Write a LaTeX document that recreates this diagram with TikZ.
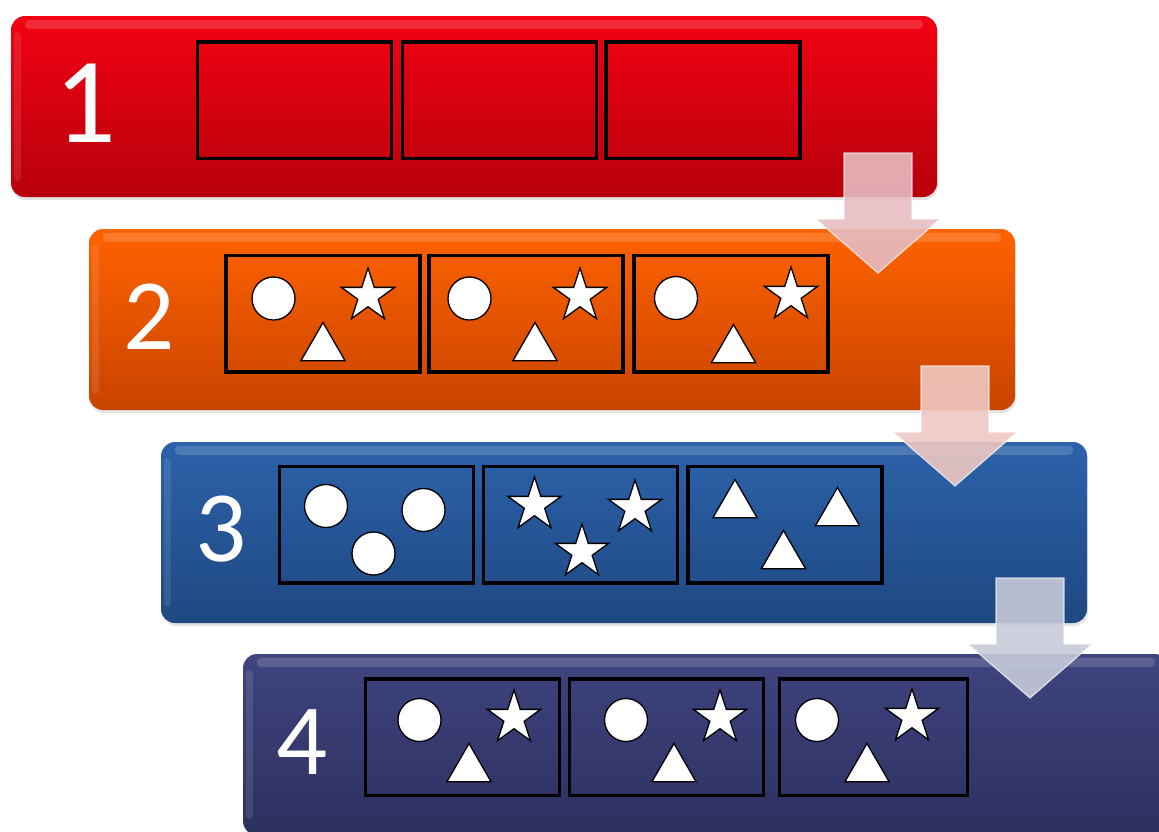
\documentclass[tikz,border=0pt]{standalone}
\usepackage{fontspec}
\setsansfont{Carlito}
\usetikzlibrary{shapes.geometric,shadows,calc}

\definecolor{redtop}{RGB}{242,2,18}
\definecolor{redbot}{RGB}{184,0,12}
\definecolor{orgtop}{RGB}{255,98,0}
\definecolor{orgbot}{RGB}{200,68,0}
\definecolor{blutop}{RGB}{44,98,170}
\definecolor{blubot}{RGB}{30,72,130}
\definecolor{navtop}{RGB}{64,68,128}
\definecolor{navbot}{RGB}{44,48,94}
\definecolor{pinkarr}{RGB}{230,188,193}
\definecolor{salarr}{RGB}{238,200,194}
\definecolor{grayarr}{RGB}{198,202,216}

\begin{document}
\begin{tikzpicture}[x=1pt,y=-1pt,
  bar/.style={rounded corners=14pt,minimum width=926pt,minimum height=181pt,inner sep=0pt,
              drop shadow={opacity=0.22,shadow xshift=1pt,shadow yshift=-3pt}},
  gloss/.style={white,opacity=0.16,rounded corners=4pt},
  num/.style={font=\sffamily\fontsize{101}{101}\selectfont,text=white,inner sep=0pt},
  cell/.style={draw=black,line width=3.5pt,minimum width=194pt,minimum height=116.5pt,inner sep=0pt},
  dot/.style={circle,draw=black,line width=1.3pt,fill=white,minimum size=43pt,inner sep=0pt},
  starshape/.style={star,star points=5,star point ratio=2.618,draw=black,line width=1.3pt,
                    fill=white,minimum size=56pt,inner sep=0pt},
  tri/.style={regular polygon,regular polygon sides=3,draw=black,line width=1.3pt,
              fill=white,minimum size=51pt,inner sep=0pt},
  blk/.style={draw=white,line width=1.2pt,draw opacity=0.7,fill opacity=0.9}]

\clip (0,0) rectangle (1159,831);

% ---- bars ----
\node[bar,top color=redtop,bottom color=redbot] (bar1) at (474,106.5) {};
\node[bar,top color=orgtop,bottom color=orgbot] (bar2) at (552,319.5) {};
\node[bar,top color=blutop,bottom color=blubot] (bar3) at (624,532.5) {};
\node[bar,top color=navtop,bottom color=navbot] (bar4) at (706,744.5) {};
\foreach \b in {bar1,bar2,bar3,bar4} {
  \fill[gloss] ($(\b.north west)+(14,4)$) rectangle ($(\b.north east)+(-14,13)$);
  \fill[gloss,opacity=0.1] ($(\b.north west)+(3,16)$) rectangle ($(\b.south west)+(10,-16)$);
}

% ---- numbers ----
\node[num,font=\sffamily\fontsize{122}{122}\selectfont] (n1) at (85,103.5) {1};
\node[num] (n2) at (149,316.5) {2};
\node[num] (n3) at (221,529.5) {3};
\node[num] (n4) at (302,742) {4};

% ---- boxes ----
\node[cell] (c11) at (294.5,100) {};
\node[cell] (c12) at (499.5,100) {};
\node[cell] (c13) at (703,100) {};
\node[cell] (c21) at (323,313.5) {};
\node[cell] (c22) at (526,313.5) {};
\node[cell] (c23) at (731,313.5) {};
\node[cell] (c31) at (376.5,524.5) {};
\node[cell] (c32) at (580.5,524.5) {};
\node[cell] (c33) at (785,524.5) {};
\node[cell] (c41) at (462.5,737) {};
\node[cell] (c42) at (666.5,737) {};
\node[cell,minimum width=188pt] (c43) at (873.5,737) {};

% ---- step 2: one of each ----
\node[dot] (d21) at (273.5,298.5) {};
\node[starshape] (s21) at (368,296) {};
\node[tri] (t21) at (323,348) {};
\node[dot] (d22) at (469.5,298.5) {};
\node[starshape] (s22) at (580,296) {};
\node[tri] (t22) at (535,348) {};
\node[dot] (d23) at (676,298) {};
\node[starshape] (s23) at (791,295) {};
\node[tri] (t23) at (733.5,350) {};

% ---- step 3: sorted ----
\node[dot] (d31) at (326,506) {};
\node[dot] (d32) at (423.5,510) {};
\node[dot] (d33) at (373.5,553.5) {};
\node[starshape] (s31) at (534.5,505) {};
\node[starshape] (s32) at (635,508) {};
\node[starshape] (s33) at (582,552) {};
\node[tri] (t31) at (735,505) {};
\node[tri] (t32) at (837.5,513) {};
\node[tri] (t33) at (783.5,556) {};

% ---- step 4: one of each again ----
\node[dot] (d41) at (419.5,720) {};
\node[starshape] (s41) at (514,718) {};
\node[tri] (t41) at (469,769) {};
\node[dot] (d42) at (626,720) {};
\node[starshape] (s42) at (720,718) {};
\node[tri] (t42) at (674,769) {};
\node[dot] (d43) at (817,720) {};
\node[starshape] (s43) at (912,717) {};
\node[tri] (t43) at (867,769) {};

% ---- down arrows ----
\foreach \x/\y/\c in {878/153/pinkarr,955/366/salarr,1030/578/grayarr}
  \draw[blk,fill=\c] (\x-34,\y) -- (\x+34,\y) -- (\x+34,\y+66) -- (\x+62,\y+66)
    -- (\x,\y+120) -- (\x-62,\y+66) -- (\x-34,\y+66) -- cycle;
\end{tikzpicture}
\end{document}
